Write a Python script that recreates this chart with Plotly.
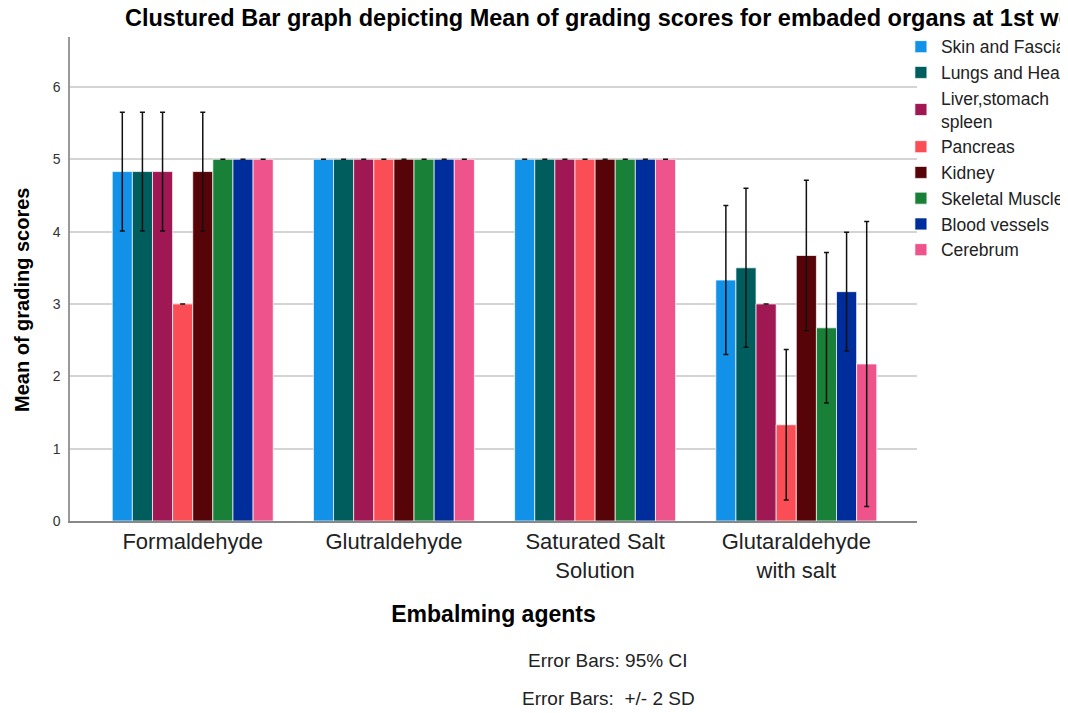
import plotly.graph_objects as go

agents = ["Formaldehyde", "Glutraldehyde", "Saturated Salt<br>Solution", "Glutaraldehyde<br>with salt"]
organs = ["Skin and Fascia", "Lungs and Heart", "Liver,stomach<br>spleen", "Pancreas",
          "Kidney", "Skeletal Muscles", "Blood vessels", "Cerebrum"]
colors = ["#1192e8", "#005d5d", "#9f1853", "#fa4d56", "#570408", "#198038", "#002d9c", "#ee538b"]

skin_mean = [4.83, 5, 5, 3.33]
skin_err = [0.82, 0, 0, 1.03]
lungs_mean = [4.83, 5, 5, 3.5]
lungs_err = [0.82, 0, 0, 1.1]
liver_mean = [4.83, 5, 5, 3.0]
liver_err = [0.82, 0, 0, 0]
pancreas_mean = [3.0, 5, 5, 1.33]
pancreas_err = [0, 0, 0, 1.04]
kidney_mean = [4.83, 5, 5, 3.67]
kidney_err = [0.82, 0, 0, 1.04]
skeletal_mean = [5, 5, 5, 2.67]
skeletal_err = [0, 0, 0, 1.04]
blood_mean = [5, 5, 5, 3.17]
blood_err = [0, 0, 0, 0.82]
cerebrum_mean = [5, 5, 5, 2.17]
cerebrum_err = [0, 0, 0, 1.97]

means = [skin_mean, lungs_mean, liver_mean, pancreas_mean, kidney_mean, skeletal_mean, blood_mean, cerebrum_mean]
errs = [skin_err, lungs_err, liver_err, pancreas_err, kidney_err, skeletal_err, blood_err, cerebrum_err]

FONT = "Liberation Sans, Arial, sans-serif"

fig = go.Figure()
for name, col, m, e in zip(organs, colors, means, errs):
    fig.add_trace(go.Bar(
        x=agents, y=m, name=name,
        marker=dict(color=col, line=dict(color="rgba(255,255,255,0.7)", width=1)),
        error_y=dict(type="data", array=e, visible=True, color="#111111", thickness=1.5, width=2.5),
    ))

fig.update_layout(
    width=1068, height=713,
    paper_bgcolor="white", plot_bgcolor="white",
    barmode="group", bargap=0.2, bargroupgap=0,
    margin=dict(l=62, r=159, t=29, b=200, autoexpand=False),
    font=dict(family=FONT, color="#222222"),
    title=dict(text="<b>Clustured Bar graph depicting Mean of grading scores for embaded organs at 1st week</b>",
               x=117/1068, xanchor="left", y=1-10/713, yanchor="middle",
               font=dict(size=23.5, color="#000000", family=FONT)),
    legend=dict(x=0.981, xanchor="left", y=1.017, yanchor="top",
                bgcolor="rgba(0,0,0,0)", font=dict(size=17.5, color="#222222", family=FONT),
                tracegroupgap=0, itemclick=False),
    showlegend=True,
)

fig.update_xaxes(
    range=[-0.61, 3.6], showgrid=False, showline=True, linecolor="#888888", linewidth=1.5,
    ticks="", tickfont=dict(size=22, color="#222222"),
    title=dict(text="<b>Embalming agents</b>", font=dict(size=23, color="#000000"), standoff=24),
)
fig.update_yaxes(
    range=[0, 6.69], tickvals=[0, 1, 2, 3, 4, 5, 6], showgrid=True, gridcolor="#d4d4d4", gridwidth=1.5,
    showline=True, linecolor="#999999", linewidth=1.5, zeroline=False, ticks="",
    tickfont=dict(size=14, color="#333333"), ticklabelstandoff=5,
)

fig.add_annotation(text="<b>Mean of grading scores</b>", xref="paper", yref="paper",
                   x=(22-70)/847, y=(521-300)/484, textangle=-90, showarrow=False,
                   xanchor="center", yanchor="middle",
                   font=dict(size=20, color="#000000"))
fig.add_annotation(text="Error Bars: 95% CI", xref="paper", yref="paper",
                   x=(607-70)/847, y=(521-661-12)/484, showarrow=False,
                   font=dict(size=19, color="#222222"))
fig.add_annotation(text="Error Bars:  +/- 2 SD", xref="paper", yref="paper",
                   x=(608-70)/847, y=(521-699-12)/484, showarrow=False,
                   font=dict(size=19, color="#222222"))

fig.write_html("out.html")
